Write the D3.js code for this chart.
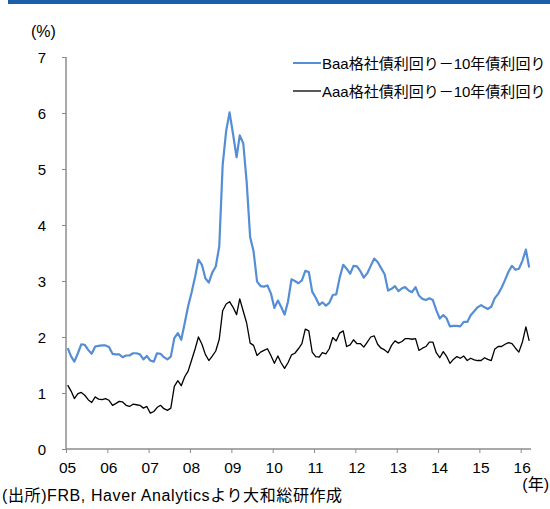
<!DOCTYPE html>
<html>
<head>
<meta charset="utf-8">
<script src="https://cdn.jsdelivr.net/npm/d3@7/dist/d3.min.js"></script>
<style>
	html, body { margin: 0; padding: 0; background: #fff; }
	svg text { font-family: "Liberation Sans", "Noto Sans CJK JP", sans-serif; fill: #000; }
</style>
</head>
<body>
<div id="chart"></div>
<script>
// Baa / Aaa corporate yield minus 10y treasury, monthly, 2005-01 .. 2016-03
var startMonth = new Date(2005, 0, 1);

var baaSpread = [
	1.80, 1.65, 1.56, 1.71, 1.87, 1.86, 1.77, 1.70, 1.83, 1.84, 1.85, 1.85,
	1.82, 1.70, 1.69, 1.69, 1.64, 1.67, 1.67, 1.71, 1.71, 1.69, 1.60, 1.66,
	1.58, 1.56, 1.71, 1.70, 1.64, 1.60, 1.65, 1.98, 2.07, 1.95, 2.25, 2.55,
	2.80, 3.08, 3.38, 3.29, 3.05, 2.97, 3.15, 3.26, 3.62, 5.07, 5.68, 6.01,
	5.62, 5.21, 5.60, 5.46, 4.77, 3.78, 3.53, 2.99, 2.91, 2.90, 2.92, 2.78,
	2.52, 2.65, 2.54, 2.40, 2.63, 3.03, 3.00, 2.96, 3.01, 3.18, 3.16, 2.81,
	2.70, 2.57, 2.62, 2.56, 2.61, 2.75, 2.76, 3.06, 3.29, 3.22, 3.13, 3.27,
	3.26, 3.17, 3.06, 3.14, 3.27, 3.40, 3.34, 3.23, 3.12, 2.83, 2.86, 2.91,
	2.82, 2.87, 2.89, 2.83, 2.80, 2.89, 2.74, 2.68, 2.66, 2.69, 2.66, 2.48,
	2.33, 2.39, 2.34, 2.19, 2.20, 2.20, 2.19, 2.27, 2.27, 2.39, 2.46, 2.53,
	2.57, 2.53, 2.50, 2.54, 2.69, 2.77, 2.88, 3.02, 3.17, 3.27, 3.20, 3.22,
	3.36, 3.56, 3.24
];

var aaaSpread = [
	1.14, 1.03, 0.90, 0.99, 1.01, 0.96, 0.88, 0.83, 0.93, 0.89, 0.88, 0.90,
	0.87, 0.78, 0.81, 0.85, 0.84, 0.78, 0.76, 0.80, 0.79, 0.78, 0.73, 0.76,
	0.64, 0.67, 0.74, 0.78, 0.72, 0.69, 0.73, 1.12, 1.22, 1.13, 1.29, 1.39,
	1.59, 1.79, 2.00, 1.87, 1.69, 1.58, 1.66, 1.75, 1.96, 2.47, 2.59, 2.63,
	2.53, 2.40, 2.68, 2.46, 2.25, 1.89, 1.85, 1.67, 1.73, 1.76, 1.79, 1.67,
	1.53, 1.66, 1.54, 1.44, 1.54, 1.68, 1.71, 1.79, 1.88, 2.14, 2.11, 1.73,
	1.65, 1.64, 1.72, 1.70, 1.79, 1.99, 1.93, 2.07, 2.11, 1.83, 1.86, 1.95,
	1.88, 1.88, 1.82, 1.91, 2.00, 2.02, 1.87, 1.80, 1.77, 1.72, 1.85, 1.93,
	1.89, 1.92, 1.97, 1.97, 1.96, 1.97, 1.76, 1.80, 1.83, 1.91, 1.91, 1.72,
	1.63, 1.74, 1.66, 1.53, 1.60, 1.65, 1.62, 1.66, 1.58, 1.62, 1.59, 1.58,
	1.58, 1.63, 1.60, 1.58, 1.78, 1.83, 1.83, 1.87, 1.90, 1.88, 1.80, 1.73,
	1.91, 2.18, 1.93
];

var yearLabels = ['05', '06', '07', '08', '09', '10', '11', '12', '13', '14', '15', '16'];
var yTicks = [0, 1, 2, 3, 4, 5, 6, 7];

var seriesNames = ['Baa格社債利回り－10年債利回り', 'Aaa格社債利回り－10年債利回り'];
var seriesColors = ['#558ed5', '#000000'];

(function () {
	'use strict';

	var width = 550,
			height = 509,
			left = 66, right = 531,
			top = 57, bottom = 449;

	var svg = d3.select('#chart').append('svg')
							.attr('width', width)
							.attr('height', height);

	// header band
	svg.append('rect')
		 .attr('x', 8).attr('y', 0)
		 .attr('width', width - 8).attr('height', 4)
		 .attr('fill', '#1b5faa');

	var x = d3.scaleTime()
						.domain([startMonth, new Date(2016, 3, 1)])
						.range([left, right]);

	var y = d3.scaleLinear()
						.domain([0, 7])
						.range([bottom, top]);

	function midMonth (i)	{
		var d = d3.timeMonth.offset(startMonth, i);
		return new Date(d.getFullYear(), d.getMonth(), 16);
	};

	// y axis
	var yAxis = d3.axisLeft(y)
								.tickValues(yTicks)
								.tickSize(4)
								.tickPadding(16)
								.tickFormat(d3.format('d'));

	var gy = svg.append('g')
							.attr('transform', 'translate(' + left + ',0)')
							.call(yAxis);

	gy.select('.domain').remove();
	gy.selectAll('line').attr('stroke', '#8c8c8c');
	gy.selectAll('text')
		.attr('font-size', 15)
		.attr('dy', '0.36em');

	gy.append('line')
		.attr('x1', 0).attr('x2', 0)
		.attr('y1', top).attr('y2', bottom)
		.attr('stroke', '#8c8c8c')
		.attr('stroke-width', 1.5);

	// x axis
	var years = yearLabels.map(function (d, i)	{
		return new Date(2005 + i, 0, 1);
	});

	var xAxis = d3.axisBottom(x)
								.tickValues(years)
								.tickSize(4)
								.tickPadding(9)
								.tickFormat(function (d, i) { return yearLabels[i]; });

	var gx = svg.append('g')
							.attr('transform', 'translate(0,' + bottom + ')')
							.call(xAxis);

	gx.select('.domain').remove();
	gx.selectAll('line').attr('stroke', '#8c8c8c');
	gx.selectAll('text')
		.attr('font-size', 15.5)
		.attr('dx', 1);

	gx.append('line')
		.attr('x1', left).attr('x2', right)
		.attr('y1', 0).attr('y2', 0)
		.attr('stroke', '#8c8c8c')
		.attr('stroke-width', 1.5);

	// lines
	var line = d3.line()
							 .x(function (d, i) { return x(midMonth(i)); })
							 .y(function (d) { return y(d); });

	svg.append('path')
		 .datum(aaaSpread)
		 .attr('d', line)
		 .attr('fill', 'none')
		 .attr('stroke', seriesColors[1])
		 .attr('stroke-width', 1.3)
		 .attr('stroke-linejoin', 'round');

	svg.append('path')
		 .datum(baaSpread)
		 .attr('d', line)
		 .attr('fill', 'none')
		 .attr('stroke', seriesColors[0])
		 .attr('stroke-width', 2.2)
		 .attr('stroke-linejoin', 'round');

	// legend
	var legend = svg.append('g')
									.selectAll('g')
									.data(seriesNames)
									.enter().append('g')
									.attr('transform', function (d, i) {
										return 'translate(293,' + (63 + i * 28) + ')';
									});

	legend.append('line')
				.attr('x1', 0).attr('x2', 28)
				.attr('stroke', function (d, i) { return seriesColors[i]; })
				.attr('stroke-width', function (d, i) { return i === 0 ? 2 : 1.3; });

	legend.append('text')
				.attr('x', 29)
				.attr('y', 5.5)
				.attr('font-size', 15)
				.text(function (d) { return d; });

	// labels
	svg.append('text')
		 .attr('x', 31).attr('y', 37)
		 .attr('font-size', 16)
		 .text('(%)');

	svg.append('text')
		 .attr('x', 549).attr('y', 490)
		 .attr('text-anchor', 'end')
		 .attr('font-size', 16)
		 .text('(年)');

	svg.append('text')
		 .attr('x', 2).attr('y', 501)
		 .attr('font-size', 16)
		 .attr('letter-spacing', 0.6)
		 .text('(出所)FRB, Haver Analyticsより大和総研作成');
})();
</script>
</body>
</html>
